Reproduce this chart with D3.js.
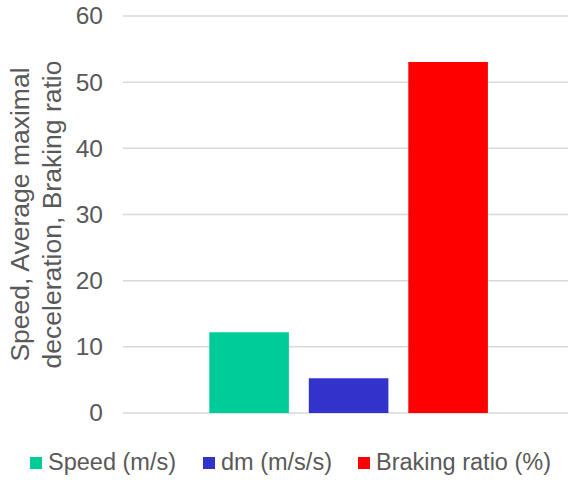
<!DOCTYPE html>
<html>
<head>
<meta charset="utf-8">
<script src="https://cdn.jsdelivr.net/npm/d3@7"></script>
<style>
  body { margin: 0; background: #fff; }
  text { font-family: "Liberation Sans", Arial, sans-serif; fill: #595959; }
</style>
</head>
<body>
<svg id="chart"></svg>
<script>
var seriesNames = ["Speed (m/s)", "dm (m/s/s)", "Braking ratio (%)"]
var seriesValues = [12.2, 5.25, 53.05]
var seriesColors = ["#00CC99", "#3333CC", "#FF0000"]
var yTicks = [0, 10, 20, 30, 40, 50, 60]
var titleLines = ["Speed, Average maximal", "deceleration, Braking ratio"]

var screen = {width:568, height:480}
var plot = {left:123, right:568, top:16, bottom:413}

var svg = d3.select("#chart")
    .attr("width", screen.width)
    .attr("height", screen.height)

var yScale = d3.scaleLinear()
    .domain([0, 60])
    .range([plot.bottom, plot.top])

var xScale = d3.scaleBand()
    .domain(seriesNames)
    .range([199.35, 497.85])
    .paddingInner(0.2)
    .paddingOuter(0.1)

// gridlines
svg.append("g")
    .selectAll("line")
    .data(yTicks)
    .enter()
    .append("line")
    .attr("x1", plot.left)
    .attr("x2", plot.right)
    .attr("y1", function(d){ return yScale(d) })
    .attr("y2", function(d){ return yScale(d) })
    .attr("stroke", "#d9d9d9")
    .attr("stroke-width", 1.5)

// y axis labels
var yAxis = d3.axisLeft(yScale)
    .tickValues(yTicks)
    .tickSize(0)
    .tickPadding(0)

var yg = svg.append("g")
    .attr("transform", "translate(103,0)")
    .call(yAxis)
yg.select(".domain").remove()
yg.selectAll("text")
    .attr("font-size", "24.5px")
    .attr("font-family", "'Liberation Sans', Arial, sans-serif")
    .attr("fill", "#595959")

// bars
svg.append("g")
    .selectAll("rect")
    .data(seriesValues)
    .enter()
    .append("rect")
    .attr("x", function(d, i){ return xScale(seriesNames[i]) })
    .attr("width", xScale.bandwidth())
    .attr("y", function(d){ return yScale(d) })
    .attr("height", function(d){ return yScale(0) - yScale(d) })
    .attr("fill", function(d, i){ return seriesColors[i] })

// axis title
var title = svg.append("g")
    .attr("transform", "translate(0," + ((plot.top + plot.bottom) / 2) + ") rotate(-90)")
title.selectAll("text")
    .data(titleLines)
    .enter()
    .append("text")
    .text(function(d){ return d })
    .attr("text-anchor", "middle")
    .attr("x", 0)
    .attr("y", function(d, i){ return 29 + i * 32 })
    .attr("font-size", "26.5px")

// legend
var legendX = [30, 203, 358]
var legend = svg.append("g")
var entries = legend.selectAll("g")
    .data(seriesNames)
    .enter()
    .append("g")
    .attr("transform", function(d, i){ return "translate(" + legendX[i] + ",457)" })

entries.append("rect")
    .attr("width", 12)
    .attr("height", 12)
    .attr("fill", function(d, i){ return seriesColors[i] })

entries.append("text")
    .text(function(d){ return d })
    .attr("x", 18)
    .attr("y", 13)
    .attr("font-size", "23.5px")
</script>
</body>
</html>
